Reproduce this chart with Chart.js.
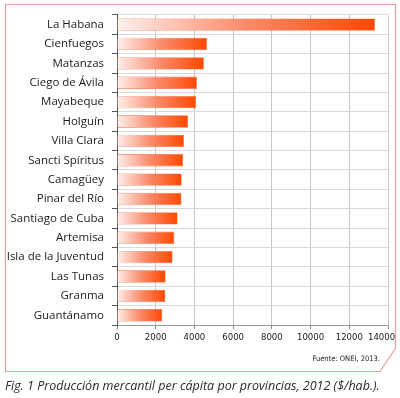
<!DOCTYPE html>
<html>
<head>
<meta charset="utf-8">
<script src="https://cdn.jsdelivr.net/npm/chart.js@4"></script>
<style>
  html, body { margin: 0; padding: 0; background: #fff; }
  #wrap { width: 400px; height: 398px; position: relative; }
</style>
</head>
<body>
<div id="wrap"><canvas id="myChart" width="400" height="398"></canvas></div>
<script>
var provincias = ["La Habana", "Cienfuegos", "Matanzas", "Ciego de Ávila", "Mayabeque", "Holguín",
  "Villa Clara", "Sancti Spíritus", "Camagüey", "Pinar del Río", "Santiago de Cuba", "Artemisa",
  "Isla de la Juventud", "Las Tunas", "Granma", "Guantánamo"];
var valores = [13330, 4650, 4490, 4130, 4090, 3670, 3460, 3410, 3340, 3330, 3130, 2960, 2870, 2510, 2500, 2340];
var xTicks = [0, 2000, 4000, 6000, 8000, 10000, 12000, 14000];
var titulo = "Fig. 1 Producción mercantil per cápita por provincias, 2012 ($/hab.).";
var fuente = "Fuente: ONEI, 2013.";

// marco con esquina cortada y textos
var marco = {
  id: "marco",
  beforeDraw: function (chart) {
    var c = chart.ctx;
    c.save();
    c.strokeStyle = "#e8a293";
    c.lineWidth = 1.2;
    c.beginPath();
    c.moveTo(5.5, 4.5);
    c.lineTo(395.5, 4.5);
    c.lineTo(395.5, 348);
    c.lineTo(380, 371.5);
    c.lineTo(5.5, 371.5);
    c.closePath();
    c.stroke();
    c.restore();
  },
  afterDraw: function (chart) {
    var c = chart.ctx;
    c.save();
    c.fillStyle = "#222";
    c.textBaseline = "middle";
    c.font = "7.5px 'Liberation Sans Narrow', 'DejaVu Sans Condensed', sans-serif";
    c.textAlign = "right";
    c.fillText(fuente, 380, 359, 68);
    c.fillStyle = "#2a2a2a";
    c.font = "italic 12.5px 'Open Sans', sans-serif";
    c.textAlign = "left";
    c.fillText(titulo, 5, 386, 389);
    c.restore();
  }
};

var ctx = document.getElementById("myChart").getContext("2d");

new Chart(ctx, {
  type: "bar",
  data: {
    labels: provincias,
    datasets: [{
      data: valores,
      backgroundColor: function (context) {
        var chart = context.chart;
        var area = chart.chartArea;
        if (!area) return "#ff5010";
        var xs = chart.scales.x;
        var x0 = xs.getPixelForValue(0);
        var x1 = xs.getPixelForValue(valores[context.dataIndex]);
        var g = chart.ctx.createLinearGradient(x0, 0, x1, 0);
        g.addColorStop(0, "#fff0ec");
        g.addColorStop(0.5, "#fa8a6a");
        g.addColorStop(1, "#ff4800");
        return g;
      },
      borderColor: "#f06a40",
      borderWidth: 0.6,
      barPercentage: 0.64,
      categoryPercentage: 1
    }]
  },
  plugins: [marco],
  options: {
    indexAxis: "y",
    responsive: false,
    animation: false,
    layout: { padding: { top: 13, right: 12, left: 0, bottom: 0 } },
    plugins: {
      legend: { display: false },
      tooltip: { enabled: false }
    },
    scales: {
      x: {
        min: 0,
        max: 14000,
        afterBuildTicks: function (axis) {
          axis.ticks = xTicks.map(function (v) { return { value: v }; });
        },
        afterFit: function (axis) {
          axis.height = 73;
          axis.paddingRight = 0;
          axis.paddingLeft = 0;
        },
        grid: { color: "#c6c6c6", lineWidth: 1, tickLength: 4, tickColor: "#8a8a8a" },
        border: { color: "#9a9a9a" },
        ticks: {
          color: "#222",
          padding: 3,
          maxRotation: 0,
          autoSkip: false,
          // el último rótulo queda dentro del marco, como en el original
          callback: function (v) {
            if (v === 14000) return v + "\u2002\u2002\u2002";
            return String(v);
          },
          font: { family: "'Liberation Sans Narrow', 'DejaVu Sans Condensed', sans-serif", size: 9.5 }
        }
      },
      y: {
        afterFit: function (axis) { axis.width = 117; },
        grid: { color: "#d9d9d9", lineWidth: 1, offset: true, tickLength: 5, tickColor: "#555" },
        border: { color: "#555" },
        ticks: {
          color: "#1a1a1a",
          padding: 8,
          autoSkip: false,
          font: { family: "'Open Sans', sans-serif", size: 11.5 }
        }
      }
    }
  }
});
</script>
</body>
</html>
